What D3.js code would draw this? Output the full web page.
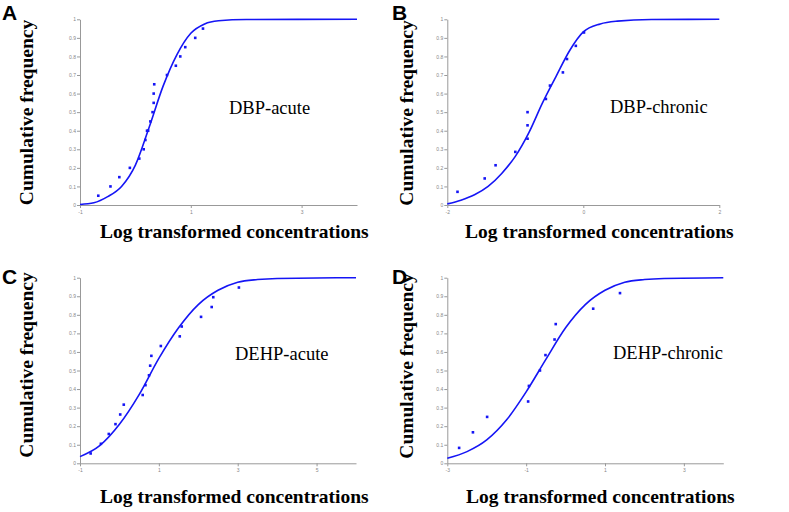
<html>
<head>
    <style>
        body {
            margin: 0;
            background: white;
        }
        .tick text {
            font-family: "Liberation Sans", Arial, sans-serif;
            font-size: 5px;
            fill: #888;
        }
        .domain, .tick line {
            stroke: #999;
        }
    </style>
    <script src="https://cdn.jsdelivr.net/npm/d3@7"></script>
</head>
<body>
<svg id="chart" width="789" height="512"></svg>
<script>
    // ---- data ----
    let panelLetters = ["A", "B", "C", "D"]
    let panelNames = ["DBP-acute", "DBP-chronic", "DEHP-acute", "DEHP-chronic"]
    let xDomains = [[-1, 4], [-2, 2], [-1, 6], [-3, 4]]
    let xTickValues = [[-1, 1, 3], [-2, 0, 2], [-1, 1, 3, 5], [-3, -1, 1, 3]]
    let yTickValues = [0, 0.1, 0.2, 0.3, 0.4, 0.5, 0.6, 0.7, 0.8, 0.9, 1]

    // observed points
    let dbpAcuteX = [-0.67, -0.45, -0.29, -0.10, 0.07, 0.15, 0.18, 0.21, 0.23, 0.27, 0.31, 0.33, 0.33, 0.34, 0.57, 0.73, 0.81, 0.90, 1.08, 1.22]
    let dbpAcuteY = [0.05, 0.10, 0.15, 0.20, 0.25, 0.30, 0.35, 0.40, 0.40, 0.45, 0.50, 0.55, 0.60, 0.65, 0.70, 0.75, 0.80, 0.85, 0.90, 0.95]
    let dbpChronicX = [-1.85, -1.45, -1.29, -1.00, -0.82, -0.82, -0.82, -0.55, -0.49, -0.30, -0.24, -0.11, 0.01]
    let dbpChronicY = [0.071, 0.143, 0.214, 0.286, 0.357, 0.429, 0.50, 0.571, 0.643, 0.714, 0.786, 0.857, 0.929]
    let dehpAcuteX = [-0.73, -0.47, -0.27, -0.10, 0.02, 0.11, 0.59, 0.66, 0.75, 0.78, 0.81, 1.05, 1.53, 1.58, 2.07, 2.34, 2.38, 3.03]
    let dehpAcuteY = [0.053, 0.105, 0.158, 0.211, 0.263, 0.316, 0.368, 0.421, 0.474, 0.526, 0.579, 0.632, 0.684, 0.737, 0.789, 0.842, 0.895, 0.947]
    let dehpChronicX = [-2.70, -2.35, -1.99, -0.95, -0.93, -0.65, -0.51, -0.28, -0.25, 0.70, 1.38]
    let dehpChronicY = [0.083, 0.167, 0.25, 0.333, 0.417, 0.50, 0.583, 0.667, 0.75, 0.833, 0.917]

    // fitted curves
    let dbpAcuteCurveX = [-1, -0.75, -0.5, -0.25, 0, 0.25, 0.5, 0.75, 1, 1.25, 1.5, 2, 4]
    let dbpAcuteCurveY = [0.003, 0.012, 0.045, 0.10, 0.215, 0.42, 0.64, 0.81, 0.925, 0.975, 0.992, 0.999, 1]
    let dbpChronicCurveX = [-2, -1.8, -1.6, -1.4, -1.2, -1.0, -0.8, -0.6, -0.4, -0.2, 0, 0.25, 0.5, 1, 2]
    let dbpChronicCurveY = [0.006, 0.026, 0.055, 0.10, 0.17, 0.262, 0.39, 0.55, 0.693, 0.832, 0.932, 0.975, 0.99, 0.999, 1]
    let dehpAcuteCurveX = [-1, -0.5, 0, 0.5, 1, 1.5, 2, 2.5, 3, 3.5, 4, 6]
    let dehpAcuteCurveY = [0.036, 0.095, 0.21, 0.37, 0.565, 0.73, 0.855, 0.932, 0.975, 0.99, 0.996, 1]
    let dehpChronicCurveX = [-3, -2.5, -2, -1.5, -1, -0.5, 0, 0.5, 1, 1.5, 2, 2.5, 4]
    let dehpChronicCurveY = [0.027, 0.063, 0.126, 0.233, 0.385, 0.56, 0.73, 0.855, 0.932, 0.975, 0.99, 0.996, 1]

    let pointsX = [dbpAcuteX, dbpChronicX, dehpAcuteX, dehpChronicX]
    let pointsY = [dbpAcuteY, dbpChronicY, dehpAcuteY, dehpChronicY]
    let curvesX = [dbpAcuteCurveX, dbpChronicCurveX, dehpAcuteCurveX, dehpChronicCurveX]
    let curvesY = [dbpAcuteCurveY, dbpChronicCurveY, dehpAcuteCurveY, dehpChronicCurveY]

    // ---- layout ----
    // plot boxes: left, top, right, bottom
    let boxes = [
        [80, 19.3, 357, 205],
        [447.3, 19.3, 719.3, 205],
        [80, 277.7, 356, 463.3],
        [447.3, 277.7, 723.3, 463.3]
    ]
    let letterPos = [[2, 20], [392, 20], [2, 284], [392, 284]]
    let namePos = [[229, 114], [610, 113], [235, 360], [613, 359]]
    let yTitlePos = [[33, 112.5], [413, 113], [33, 365], [413, 366]]
    let xTitlePos = [[100, 238], [465, 238], [100, 503], [466, 503]]

    let blue = "#1515f5"
    let svg = d3.select("#chart")

    function drawPanel(i) {
        let [left, top, right, bottom] = boxes[i]
        let g = svg.append("g")

        let x = d3.scaleLinear().domain(xDomains[i]).range([left, right])
        let y = d3.scaleLinear().domain([0, 1]).range([bottom, top])

        // plain hyphen for negatives, like the original
        g.append("g")
            .attr("transform", `translate(0,${bottom})`)
            .call(d3.axisBottom(x).tickValues(xTickValues[i]).tickSize(3).tickPadding(2).tickSizeOuter(0).tickFormat(d => String(d)))

        g.append("g")
            .attr("transform", `translate(${left},0)`)
            .call(d3.axisLeft(y).tickValues(yTickValues).tickSize(3).tickPadding(1).tickSizeOuter(0).tickFormat(d => d === 0 || d === 1 ? String(d) : d3.format(".1f")(d)))

        // fitted curve
        let curve = curvesX[i].map((d, k) => [d, curvesY[i][k]])
        let line = d3.line()
            .x(d => x(d[0]))
            .y(d => y(d[1]))
            .curve(d3.curveMonotoneX)
        g.append("path")
            .datum(curve)
            .attr("d", line)
            .attr("fill", "none")
            .attr("stroke", blue)
            .attr("stroke-width", 1.6)

        // observed points
        let pts = pointsX[i].map((d, k) => [d, pointsY[i][k]])
        g.selectAll("rect.pt")
            .data(pts)
            .enter().append("rect")
            .attr("class", "pt")
            .attr("x", d => x(d[0]) - 1.3)
            .attr("y", d => y(d[1]) - 1.3)
            .attr("width", 2.6)
            .attr("height", 2.6)
            .attr("fill", blue)

        g.append("text")
            .attr("x", namePos[i][0])
            .attr("y", namePos[i][1])
            .style("font-family", "'Liberation Serif', 'Times New Roman', serif")
            .style("font-size", "18.5px")
            .text(panelNames[i])

        g.append("text")
            .attr("transform", `translate(${yTitlePos[i][0]},${yTitlePos[i][1]}) rotate(-90)`)
            .attr("text-anchor", "middle")
            .style("font-family", "'Liberation Serif', 'Times New Roman', serif")
            .style("font-weight", "bold")
            .style("font-size", "19.5px")
            .text("Cumulative frequency")

        g.append("text")
            .attr("x", xTitlePos[i][0])
            .attr("y", xTitlePos[i][1])
            .style("font-family", "'Liberation Serif', 'Times New Roman', serif")
            .style("font-weight", "bold")
            .style("font-size", "19.5px")
            .text("Log transformed concentrations")

        g.append("text")
            .attr("x", letterPos[i][0])
            .attr("y", letterPos[i][1])
            .style("font-family", "'Liberation Sans', Arial, sans-serif")
            .style("font-weight", "bold")
            .style("font-size", "21px")
            .text(panelLetters[i])
    }

    for (let i = 0; i < 4; i++) drawPanel(i)
</script>
</body>
</html>
